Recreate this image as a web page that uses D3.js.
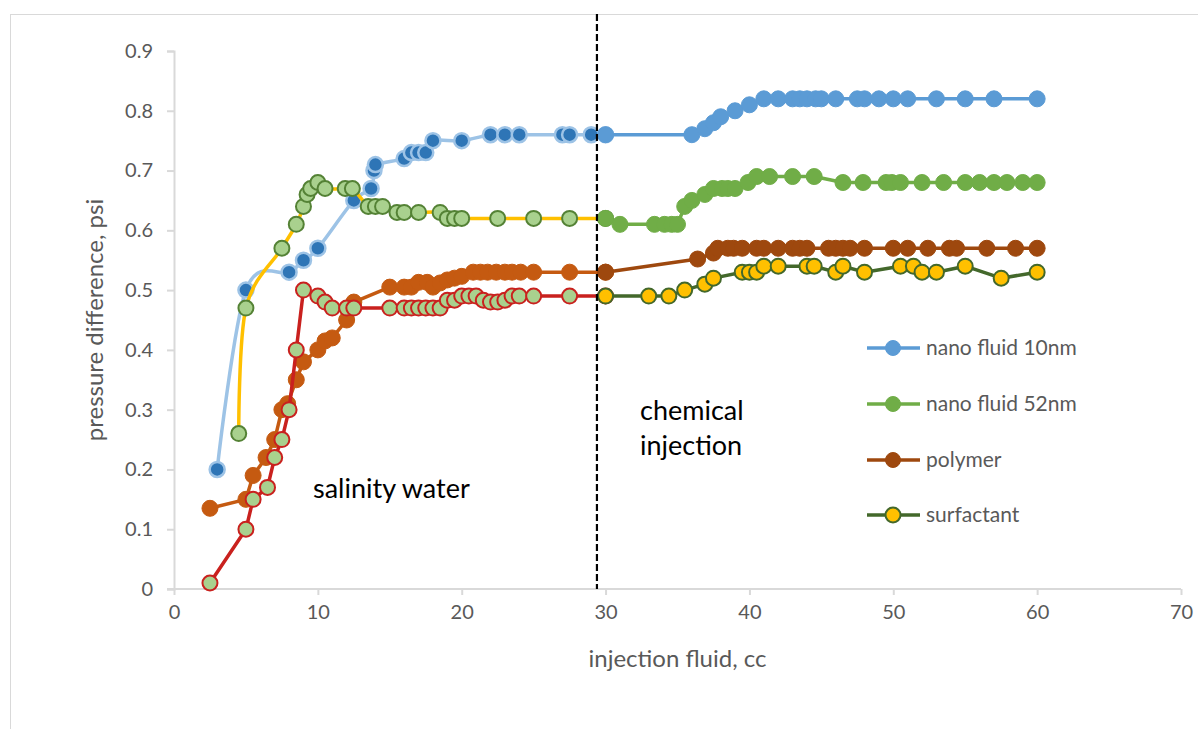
<!DOCTYPE html>
<html>
<head>
<meta charset="utf-8">
<script src="https://cdn.jsdelivr.net/npm/d3@7"></script>
<style>
  html, body { margin: 0; padding: 0; background: #fff; }
  svg text { font-family: Lato, "Open Sans", sans-serif; }
</style>
</head>
<body>
<svg id="chart" width="1198" height="729"></svg>
<script>
// Axis ticks
const xTicks = [0, 10, 20, 30, 40, 50, 60, 70];
const yTicks = [0, 0.1, 0.2, 0.3, 0.4, 0.5, 0.6, 0.7, 0.8, 0.9];

// Water flooding stage (up to ~30 cc)
const water10nmX = [3, 5, 8, 9, 10, 12.5, 13.7, 13.9, 14, 16, 16.5, 17, 17.5, 18, 20, 22, 23, 24, 27, 27.5, 29, 30];
const water10nmY = [0.20, 0.50, 0.53, 0.55, 0.57, 0.65, 0.67, 0.70, 0.71, 0.72, 0.73, 0.73, 0.73, 0.75, 0.75, 0.76, 0.76, 0.76, 0.76, 0.76, 0.76, 0.76];

const water52nmX = [4.5, 5, 7.5, 8.5, 9, 9.25, 9.5, 10, 10.5, 11.9, 12.4, 13.5, 14, 14.5, 15.5, 16, 17, 18.5, 19, 19.5, 20, 22.5, 25, 27.5, 30];
const water52nmY = [0.26, 0.47, 0.57, 0.61, 0.64, 0.66, 0.67, 0.68, 0.67, 0.67, 0.67, 0.64, 0.64, 0.64, 0.63, 0.63, 0.63, 0.63, 0.62, 0.62, 0.62, 0.62, 0.62, 0.62, 0.62];

const waterPolymerX = [2.5, 5, 5.5, 6.4, 7, 7.5, 7.9, 8.5, 9, 10, 10.5, 11, 12, 12.5, 15, 16, 16.5, 17, 17.6, 18, 18.5, 19, 19.5, 20, 20.8, 21.3, 21.8, 22.4, 23, 23.5, 24.1, 25, 27.5, 30];
const waterPolymerY = [0.135, 0.15, 0.19, 0.22, 0.25, 0.30, 0.31, 0.35, 0.38, 0.40, 0.415, 0.42, 0.45, 0.48, 0.505, 0.505, 0.505, 0.513, 0.513, 0.505, 0.512, 0.517, 0.52, 0.523, 0.53, 0.53, 0.53, 0.53, 0.53, 0.53, 0.53, 0.53, 0.53, 0.53];

const waterSurfactantX = [2.5, 5, 5.5, 6.5, 7, 7.5, 8, 8.5, 9, 10, 10.5, 11, 12, 12.5, 15, 16, 16.5, 17, 17.5, 18, 18.5, 19, 19.5, 20, 20.5, 21, 21.5, 22, 22.5, 23, 23.5, 24, 25, 27.5, 30];
const waterSurfactantY = [0.01, 0.10, 0.15, 0.17, 0.22, 0.25, 0.30, 0.40, 0.50, 0.49, 0.48, 0.47, 0.47, 0.47, 0.47, 0.47, 0.47, 0.47, 0.47, 0.47, 0.47, 0.483, 0.483, 0.49, 0.49, 0.49, 0.483, 0.48, 0.48, 0.483, 0.49, 0.49, 0.49, 0.49, 0.49];

// Chemical injection stage (from 30 cc)
const nano10nmX = [30, 36, 36.9, 37.5, 38, 39, 40, 41, 42, 43, 43.5, 44, 44.6, 45, 46, 47.5, 48, 49, 50, 51, 53, 55, 57, 60];
const nano10nmY = [0.76, 0.76, 0.77, 0.78, 0.79, 0.80, 0.81, 0.82, 0.82, 0.82, 0.82, 0.82, 0.82, 0.82, 0.82, 0.82, 0.82, 0.82, 0.82, 0.82, 0.82, 0.82, 0.82, 0.82];

const nano52nmX = [30, 31, 33.4, 34.1, 34.6, 35, 35.5, 36, 36.9, 37.5, 38.1, 38.5, 39, 39.9, 40.5, 41.4, 43, 44.5, 46.5, 47.9, 49.5, 49.9, 50.5, 52, 53.5, 55, 56, 57, 57.9, 59, 60];
const nano52nmY = [0.62, 0.61, 0.61, 0.61, 0.61, 0.61, 0.64, 0.65, 0.66, 0.67, 0.67, 0.67, 0.67, 0.68, 0.69, 0.69, 0.69, 0.69, 0.68, 0.68, 0.68, 0.68, 0.68, 0.68, 0.68, 0.68, 0.68, 0.68, 0.68, 0.68, 0.68];

const polymerX = [30, 36.4, 37.5, 37.8, 38.5, 38.9, 39.5, 40.5, 41, 42, 43, 43.5, 44, 45.5, 46, 46.5, 47, 48, 50, 51, 52.4, 53.9, 54.4, 56.5, 58.5, 60];
const polymerY = [0.53, 0.552, 0.562, 0.57, 0.57, 0.57, 0.57, 0.57, 0.57, 0.57, 0.57, 0.57, 0.57, 0.57, 0.57, 0.57, 0.57, 0.57, 0.57, 0.57, 0.57, 0.57, 0.57, 0.57, 0.57, 0.57];

const surfactantX = [30, 33, 34.4, 35.5, 36.9, 37.5, 39.5, 40, 40.5, 41, 42, 44, 44.5, 46, 46.5, 48, 50.5, 51.4, 52, 53, 55, 57.5, 60];
const surfactantY = [0.49, 0.49, 0.49, 0.50, 0.51, 0.52, 0.53, 0.53, 0.53, 0.54, 0.54, 0.54, 0.54, 0.53, 0.54, 0.53, 0.54, 0.54, 0.53, 0.53, 0.54, 0.52, 0.53];

const legendLabels = ["nano fluid 10nm", "nano fluid 52nm", "polymer", "surfactant"];
const stageLabels = ["salinity water", "chemical", "injection"];
const stageBoundary = 29.4;

const svg = d3.select("#chart");
const W = 1198, H = 729;
const plot = { left: 174, right: 1181, top: 51, bottom: 589 };

const x = d3.scaleLinear().domain([0, 70]).range([plot.left, plot.right]);
const y = d3.scaleLinear().domain([0, 0.9]).range([plot.bottom, plot.top]);

// chart frame
svg.append("rect").attr("x", 10.5).attr("y", 14.5).attr("width", W).attr("height", H)
  .attr("fill", "#fff").attr("stroke", "#d9d9d9").attr("stroke-width", 1);

const axisColor = "#d9d9d9";
const textColor = "#595959";

// y axis
const yAxis = svg.append("g").attr("transform", `translate(${plot.left},0)`)
  .call(d3.axisLeft(y).tickValues(yTicks).tickSize(7).tickPadding(14)
    .tickFormat(d => d === 0 ? "0" : d3.format(".1f")(d)));
// x axis
const xAxis = svg.append("g").attr("transform", `translate(0,${plot.bottom})`)
  .call(d3.axisBottom(x).tickValues(xTicks).tickSize(6).tickPadding(10).tickFormat(d3.format("d")));

[yAxis, xAxis].forEach(g => {
  g.select(".domain").attr("stroke", axisColor).attr("stroke-width", 2);
  g.selectAll(".tick line").attr("stroke", axisColor).attr("stroke-width", 2);
  g.selectAll(".tick text").attr("fill", textColor).style("font-size", "20px");
});
xAxis.select(".domain").attr("d", `M${plot.left - 7},0H${plot.right}`);

// axis titles
svg.append("text").attr("x", (plot.left + plot.right) / 2).attr("y", 667)
  .attr("text-anchor", "middle").attr("fill", textColor).style("font-size", "24px")
  .text("injection fluid, cc");
svg.append("text").attr("transform", `translate(103,${(plot.top + plot.bottom) / 2}) rotate(-90)`)
  .attr("text-anchor", "middle").attr("fill", textColor).style("font-size", "24px")
  .text("pressure difference, psi");

function zip(xs, ys) { return xs.map((v, i) => ({ x: v, y: ys[i] })); }

const series = [
  { data: zip(water10nmX, water10nmY), line: "#9dc3e6", fill: "#2e75b6", stroke: "#9dc3e6", sw: 2.5, r: 7.5, smooth: true },
  { data: zip(water52nmX, water52nmY), line: "#ffc000", fill: "#a9d18e", stroke: "#548235", sw: 2, r: 7.5, smooth: true },
  { data: zip(waterPolymerX, waterPolymerY), line: "#c55a11", fill: "#c55a11", stroke: "#c55a11", sw: 1, r: 8, smooth: false },
  { data: zip(waterSurfactantX, waterSurfactantY), line: "#c9211e", fill: "#a9d18e", stroke: "#c9211e", sw: 2, r: 7.5, smooth: false },
  { data: zip(nano10nmX, nano10nmY), line: "#5b9bd5", fill: "#5b9bd5", stroke: "#5b9bd5", sw: 1, r: 8, smooth: false },
  { data: zip(nano52nmX, nano52nmY), line: "#70ad47", fill: "#70ad47", stroke: "#70ad47", sw: 1, r: 8, smooth: false },
  { data: zip(polymerX, polymerY), line: "#9e480e", fill: "#9e480e", stroke: "#9e480e", sw: 1, r: 8, smooth: false },
  { data: zip(surfactantX, surfactantY), line: "#43682b", fill: "#ffc000", stroke: "#43682b", sw: 2, r: 7.5, smooth: false }
];

series.forEach(s => {
  const g = svg.append("g");
  const gen = d3.line().x(d => x(d.x)).y(d => y(d.y))
    .curve(s.smooth ? d3.curveCardinal.tension(0) : d3.curveLinear);
  g.append("path").attr("d", gen(s.data)).attr("fill", "none")
    .attr("stroke", s.line).attr("stroke-width", 3.5).attr("stroke-linejoin", "round");
  g.selectAll("circle").data(s.data).join("circle")
    .attr("cx", d => x(d.x)).attr("cy", d => y(d.y)).attr("r", s.r)
    .attr("fill", s.fill).attr("stroke", s.stroke).attr("stroke-width", s.sw);
});

// boundary between water flooding and chemical injection
svg.append("line").attr("x1", x(stageBoundary)).attr("x2", x(stageBoundary))
  .attr("y1", 14).attr("y2", plot.bottom)
  .attr("stroke", "#000").attr("stroke-width", 2.2).attr("stroke-dasharray", "7,3");

// stage annotations
svg.append("text").attr("x", 313).attr("y", 498).attr("fill", "#000").style("font-size", "27px").text(stageLabels[0]);
svg.append("text").attr("x", 640).attr("y", 420).attr("fill", "#000").style("font-size", "27px").text(stageLabels[1]);
svg.append("text").attr("x", 640).attr("y", 455).attr("fill", "#000").style("font-size", "27px").text(stageLabels[2]);

// legend
const legendSeries = series.slice(4);
const legend = svg.append("g");
const legendRows = [348, 404, 460, 515];
legendSeries.forEach((s, i) => {
  const ly = legendRows[i];
  legend.append("line").attr("x1", 867).attr("x2", 920).attr("y1", ly).attr("y2", ly)
    .attr("stroke", s.line).attr("stroke-width", 3.5);
  legend.append("circle").attr("cx", 893).attr("cy", ly).attr("r", 7.5)
    .attr("fill", s.fill).attr("stroke", s.stroke).attr("stroke-width", s.sw);
  legend.append("text").attr("x", 926).attr("y", ly).attr("dy", "0.35em")
    .attr("fill", textColor).style("font-size", "21px").text(legendLabels[i]);
});
</script>
</body>
</html>
